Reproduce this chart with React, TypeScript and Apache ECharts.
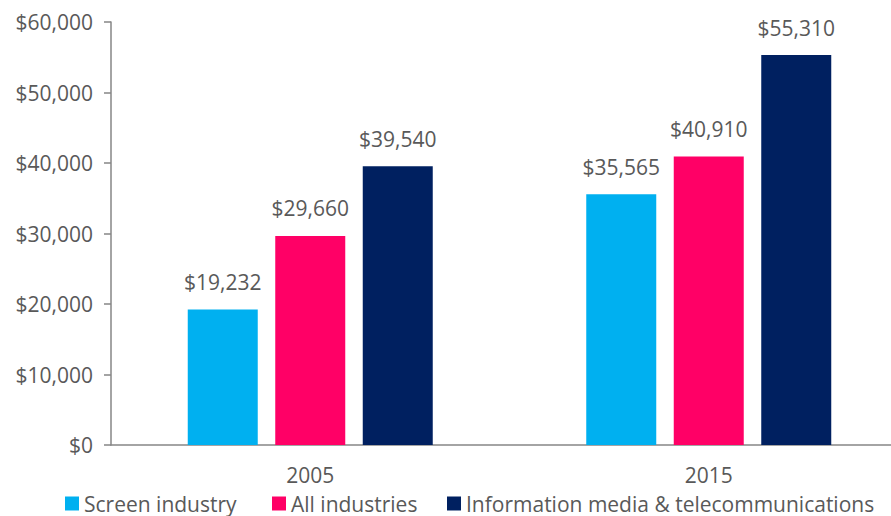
import React, { useEffect, useRef } from "react";
import * as echarts from "echarts";

const categories = ["2005", "2015"];
const seriesNames = ["Screen industry", "All industries", "Information media & telecommunications"];
const screenIndustry = [19232, 35565];
const allIndustries = [29660, 40910];
const infoMedia = [39540, 55310];
const colors = ["#00B0F0", "#FF0066", "#002060"];
const legendLefts = [65, 272, 447];

const fmt = (v: number) => "$" + v.toLocaleString("en-US");

export default function App() {
  const ref = useRef<HTMLDivElement>(null);
  useEffect(() => {
    if (!ref.current) return;
    const chart = echarts.init(ref.current, null, { renderer: "svg" });
    const font = "'Open Sans', sans-serif";
    const textColor = "#595959";
    const values = [screenIndustry, allIndustries, infoMedia];
    chart.setOption({
      animation: false,
      textStyle: { fontFamily: font },
      grid: { left: 111, right: 0, top: 22, bottom: 71, containLabel: false },
      legend: seriesNames.map((name, i) => ({
        top: 493,
        left: legendLefts[i],
        itemWidth: 14,
        itemHeight: 14,
        padding: 0,
        icon: "rect",
        textStyle: { color: textColor, fontSize: 21, lineHeight: 20, fontFamily: font },
        data: [name],
      })),
      xAxis: {
        type: "category",
        data: categories,
        axisLine: { lineStyle: { color: "#868686", width: 1.5 } },
        axisTick: { show: false },
        axisLabel: { color: textColor, fontSize: 21, margin: 19, fontFamily: font },
      },
      yAxis: {
        type: "value",
        min: 0,
        max: 60000,
        interval: 10000,
        splitLine: { show: false },
        axisLine: { show: true, lineStyle: { color: "#868686", width: 1.5 } },
        axisTick: { show: true, length: 7, lineStyle: { color: "#868686", width: 1.5 } },
        axisLabel: { color: textColor, fontSize: 21, margin: 18, fontFamily: font, formatter: (v: number) => fmt(v) },
      },
      series: seriesNames.map((name, i) => ({
        name,
        type: "bar",
        data: values[i],
        barWidth: 70,
        barGap: "25%",
        itemStyle: { color: colors[i] },
        label: {
          show: true,
          position: "top",
          distance: 17,
          color: textColor,
          fontSize: 21,
          fontFamily: font,
          formatter: (p: any) => fmt(p.value),
        },
      })),
    });
    return () => chart.dispose();
  }, []);
  return (
    <div style={{ width: 891, height: 516, position: "absolute", left: 0, top: 0, overflow: "hidden" }}>
      <div ref={ref} style={{ width: 908, height: 516 }} />
    </div>
  );
}
